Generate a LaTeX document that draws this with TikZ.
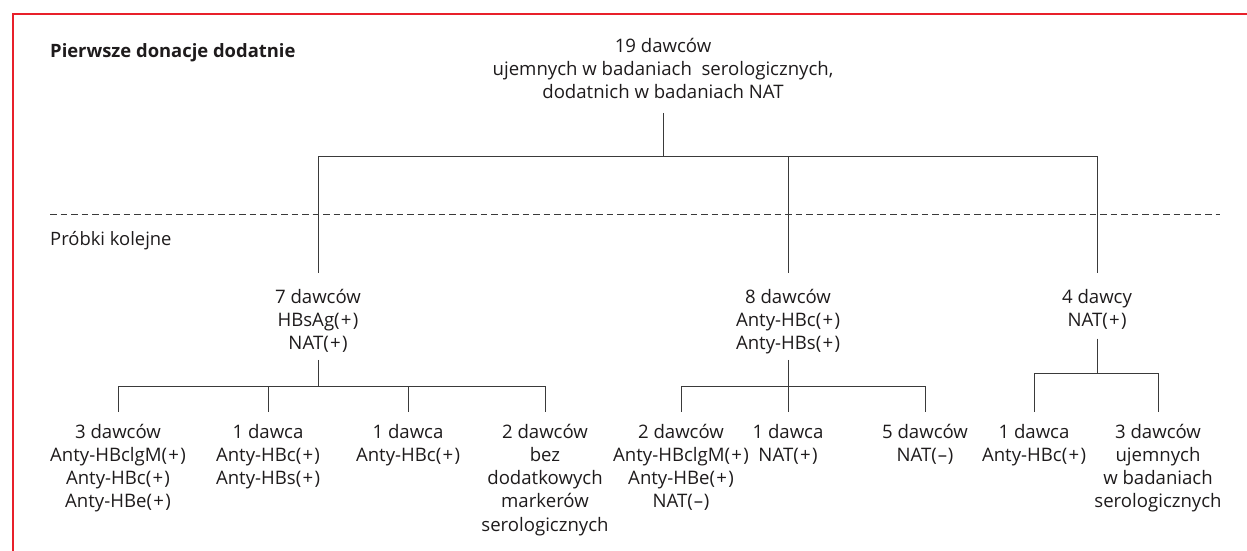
\documentclass[tikz,border=0pt]{standalone}
\usepackage{fontspec}
\setmainfont{Open Sans}
\definecolor{redline}{HTML}{E8202A}
\definecolor{ink}{HTML}{1E1B1C}
\definecolor{wire}{HTML}{3A3A3A}
\newcommand\pp{\kern1.3pt+\kern1.3pt}
\newcommand\mm{\kern0.8pt--\kern0.8pt}
\newcommand\tst[1]{\rule{0pt}{#1}}
\begin{document}
\begin{tikzpicture}[x=1pt,y=-1pt,
  lbl/.style={align=center,inner xsep=0pt,inner ysep=0pt,text=ink,font=\fontsize{18.6}{23.2}\selectfont,anchor=north},
  conn/.style={draw=wire,line width=1pt},
  sect/.style={text=ink,font=\fontsize{18.4}{23}\selectfont,anchor=base west,inner sep=0pt}]
\useasboundingbox (0,0) rectangle (1247,551);
\draw[redline,line width=1.6pt] (1247,14) -- (13,14) -- (13,551);
\node[sect,font=\fontsize{18.4}{23}\selectfont\bfseries] (title) at (50,57) {Pierwsze donacje dodatnie};
\node[sect] (probki) at (50,245) {Próbki kolejne};
\coordinate (dl) at (50,214);
\coordinate (dr) at (1220,214);
\draw[wire,line width=0.8pt,dash pattern=on 6.5pt off 4pt] (dl) -- (dr);
% top (first baseline 52)
\node[lbl] (t) at (663,34) {\tst{18pt}19 dawców\\ujemnych w badaniach\ \ serologicznych,\\dodatnich w badaniach NAT\rule[-14pt]{0pt}{0pt}};
\coordinate (b1) at (318,156);
\coordinate (b3) at (1097,156);
% level 2 (first baseline 303)
\node[lbl] (a) at (318,273) {\tst{30pt}7 dawców\\HBsAg(\pp)\\NAT(\pp)\rule[-10pt]{0pt}{0pt}};
\node[lbl] (b) at (788,273) {\tst{30pt}8 dawców\\Anty-HBc(\pp)\\Anty-HBs(\pp)\rule[-10pt]{0pt}{0pt}};
\node[lbl] (c) at (1097,273) {\tst{30pt}4 dawcy\\NAT(\pp)\rule[-12pt]{0pt}{0pt}};
\draw[conn] (t.south) -- (t.south |- b1);
\draw[conn] (b1) -- (b3);
\draw[conn] (b1) -- (a.north);
\draw[conn] (b.north |- b1) -- (b.north);
\draw[conn] (b3) -- (c.north);
% level 3 (first baseline 438)
\node[lbl] (a1) at (118,412) {\tst{26pt}3 dawców\\Anty-HBclgM(\pp)\\Anty-HBc(\pp)\\Anty-HBe(\pp)};
\node[lbl] (a2) at (268,412) {\tst{26pt}1 dawca\\Anty-HBc(\pp)\\Anty-HBs(\pp)};
\node[lbl] (a3) at (408,412) {\tst{26pt}1 dawca\\Anty-HBc(\pp)};
\node[lbl] (a4) at (545,412) {\tst{26pt}2 dawców\\bez\\dodatkowych\\markerów\\serologicznych};
\node[lbl] (b1n) at (681,412) {\tst{26pt}2 dawców\\Anty-HBclgM(\pp)\\Anty-HBe(\pp)\\NAT(\mm)};
\node[lbl] (b2n) at (788,412) {\tst{26pt}1 dawca\\NAT(\pp)};
\node[lbl] (b3n) at (925,412) {\tst{26pt}5 dawców\\NAT(\mm)};
\node[lbl] (c1) at (1034,412) {\tst{26pt}1 dawca\\Anty-HBc(\pp)};
\node[lbl] (c2) at (1158,412) {\tst{26pt}3 dawców\\ujemnych\\w badaniach\\serologicznych};
\coordinate (ja) at (318,386);
\coordinate (jb) at (788,386);
\coordinate (jc) at (1097,373);
\draw[conn] (a.south) -- (ja);
\draw[conn] (a1.north |- ja) -- (a4.north |- ja);
\foreach \n in {a1,a2,a3,a4} \draw[conn] (\n.north |- ja) -- (\n.north);
\draw[conn] (b.south) -- (jb);
\draw[conn] (b1n.north |- jb) -- (b3n.north |- jb);
\foreach \n in {b1n,b2n,b3n} \draw[conn] (\n.north |- jb) -- (\n.north);
\draw[conn] (c.south) -- (jc);
\draw[conn] (c1.north |- jc) -- (c2.north |- jc);
\foreach \n in {c1,c2} \draw[conn] (\n.north |- jc) -- (\n.north);
\end{tikzpicture}
\end{document}
